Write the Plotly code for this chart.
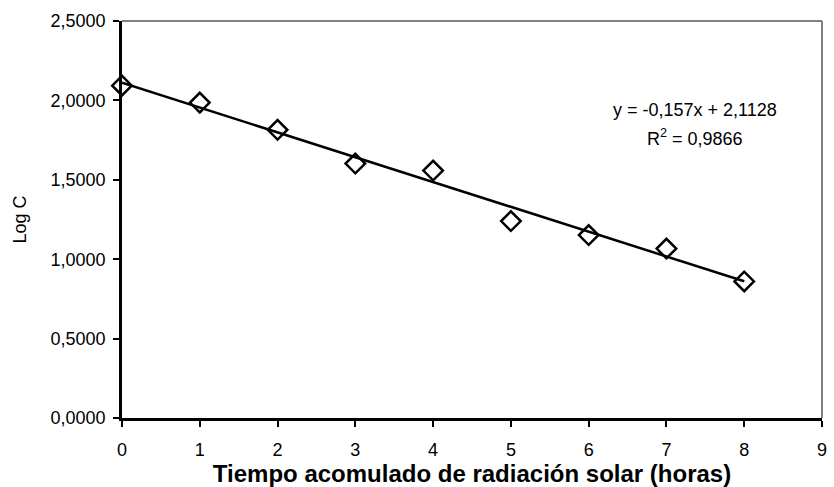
import numpy as np
import plotly.graph_objects as go

hours = [0, 1, 2, 3, 4, 5, 6, 7, 8]
log_c = [2.093, 1.986, 1.815, 1.602, 1.558, 1.240, 1.152, 1.067, 0.860]
x_ticks = [0, 1, 2, 3, 4, 5, 6, 7, 8, 9]
y_ticks = [0.0, 0.5, 1.0, 1.5, 2.0, 2.5]
y_tick_labels = ["0,0000", "0,5000", "1,0000", "1,5000", "2,0000", "2,5000"]
eq_text = "y = -0,157x + 2,1128"
r2_text = "R<sup>2</sup> = 0,9866"

slope, intercept = np.polyfit(hours, log_c, 1)
fit_x = [hours[0], hours[-1]]
fit_y = [slope * v + intercept for v in fit_x]

FONT = "Liberation Sans, Arial, sans-serif"

fig = go.Figure()
fig.add_trace(go.Scatter(x=fit_x, y=fit_y, mode="lines", cliponaxis=False,
                         line=dict(color="black", width=2.5), showlegend=False))
fig.add_trace(go.Scatter(x=hours, y=log_c, mode="markers", cliponaxis=False,
                         marker=dict(symbol="diamond-open", size=15, color="black",
                                     line=dict(width=2.5, color="black")),
                         showlegend=False))

fig.add_annotation(x=7.37, y=1.94, xref="x", yref="y", text=eq_text, showarrow=False,
                   font=dict(family=FONT, size=18, color="black"))
fig.add_annotation(x=7.37, y=1.765, xref="x", yref="y", text=r2_text, showarrow=False,
                   font=dict(family=FONT, size=18, color="black"))

# gray top/right frame
fig.add_shape(type="line", xref="paper", yref="paper", x0=0, x1=1, y0=1, y1=1,
              line=dict(color="#808080", width=2))
fig.add_shape(type="line", xref="paper", yref="paper", x0=1, x1=1, y0=0, y1=1,
              line=dict(color="#808080", width=2))

fig.update_layout(
    width=834, height=487,
    margin=dict(l=122, r=7, t=21, b=68),
    plot_bgcolor="white", paper_bgcolor="white",
    font=dict(family=FONT, color="black", size=18),
    xaxis=dict(range=[0, 9], tickvals=x_ticks, ticktext=[str(v) for v in x_ticks],
               showgrid=False, zeroline=False, showline=True, linecolor="black",
               linewidth=2.5, ticks="outside", ticklen=6, tickwidth=2, tickcolor="black",
               tickfont=dict(size=18), ticklabelstandoff=8,
               title=dict(text="<b>Tiempo acomulado de radiación solar (horas)</b>",
                          font=dict(size=24), standoff=3)),
    yaxis=dict(range=[0, 2.5], tickvals=y_ticks, ticktext=y_tick_labels,
               showgrid=False, zeroline=False, showline=True, linecolor="black",
               linewidth=2.5, ticks="outside", ticklen=6, tickwidth=2, tickcolor="black",
               tickfont=dict(size=18), ticklabelstandoff=4,
               title=dict(text="Log C", font=dict(size=18), standoff=20)),
)

fig.write_html("out.html")
